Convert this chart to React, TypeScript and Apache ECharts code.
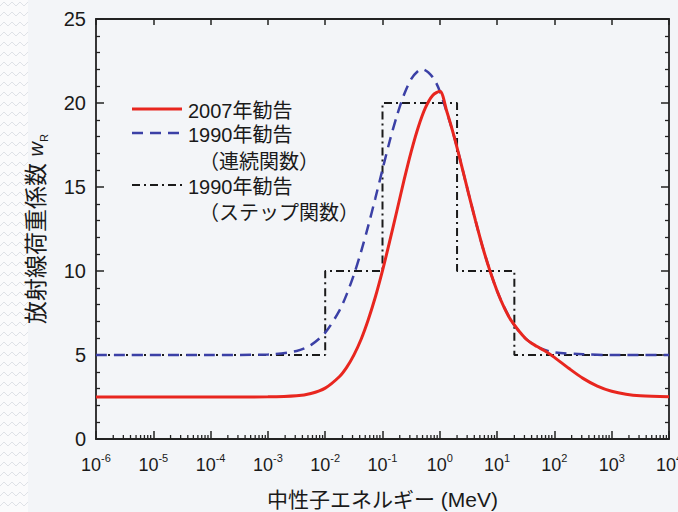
import React, { useEffect, useRef } from "react";
import * as echarts from "echarts";

// Neutron energy (MeV) and radiation weighting factor values
const icrp2007E = [1e-6, 1e-4, 1e-3, 0.00316, 0.00562, 0.01, 0.0178, 0.0237, 0.0316, 0.0422, 0.0562, 0.075, 0.1, 0.133, 0.178, 0.237, 0.316, 0.422, 0.562, 0.75, 1, 1.33, 1.78, 2.37, 3.16, 4.22, 5.62, 7.5, 10, 13.3, 17.8, 31.6, 50, 70.8, 100, 178, 316, 562, 1000, 1780, 3160, 10000];
const icrp2007W = [2.5, 2.5, 2.51, 2.57, 2.71, 3.03, 3.72, 4.26, 4.99, 5.92, 7.08, 8.45, 10.02, 11.75, 13.57, 15.39, 17.09, 18.57, 19.72, 20.45, 20.7, 19.48, 18.0, 16.35, 14.64, 12.97, 11.4, 10.01, 8.81, 7.82, 7.03, 5.97, 5.5, 5.21, 4.86, 4.21, 3.61, 3.15, 2.84, 2.66, 2.57, 2.51];

const icrp1990ContE = [1e-6, 1e-4, 1e-3, 0.00316, 0.00562, 0.01, 0.0178, 0.0237, 0.0316, 0.0422, 0.0562, 0.075, 0.1, 0.133, 0.178, 0.237, 0.316, 0.422, 0.5, 0.75, 1, 1.78, 3.16, 5.62, 10, 17.8, 31.6, 56.2, 100, 316, 1000, 10000];
const icrp1990ContW = [5, 5, 5.03, 5.24, 5.59, 6.33, 7.66, 8.61, 9.77, 11.14, 12.67, 14.33, 16.04, 17.71, 19.23, 20.49, 21.42, 21.92, 22.0, 21.54, 20.69, 18.0, 14.64, 11.4, 8.81, 7.03, 5.97, 5.41, 5.16, 5.05, 5.0, 5.0];

const icrp1990StepE = [1e-6, 0.01, 0.01, 0.1, 0.1, 2, 2, 20, 20, 10000];
const icrp1990StepW = [5, 5, 10, 10, 20, 20, 10, 10, 5, 5];

const xExponents = [-6, -5, -4, -3, -2, -1, 0, 1, 2, 3, 4];
const yTicks = [0, 5, 10, 15, 20, 25];

const legendLabels = ["2007年勧告", "1990年勧告", "（連続関数）", "1990年勧告", "（ステップ関数）"];
const xTitle = "中性子エネルギー (MeV)";
const yTitle = "放射線荷重係数";

const FONT = '"Liberation Sans", Arial, "Noto Sans CJK JP", sans-serif';
const RED = "#e8261f";
const BLUE = "#3b40a6";
const BLACK = "#1a1a1a";
const AXIS = "#222222";

const toPts = (es: number[], ws: number[]) => es.map((e, i) => [Math.log10(e), ws[i]]);

export default function App() {
  const ref = useRef<HTMLDivElement>(null);
  useEffect(() => {
    document.body.style.margin = "0";
    if (!ref.current) return;
    const chart = echarts.init(ref.current, undefined, { renderer: "svg" });

    const minorTicks: number[][] = [];
    for (let n = xExponents[0]; n < xExponents[xExponents.length - 1]; n++) {
      for (let k = 2; k <= 9; k++) minorTicks.push([n + Math.log10(k), 0]);
    }

    const zig: any[] = [];
    for (let r = 0; r < 52; r++) {
      const y = 4 + r * 10;
      const pts: number[][] = [];
      for (let x = 0; x <= 28; x += 4) pts.push([x, (x / 4) % 2 === 0 ? y + 2 : y - 2]);
      zig.push({ type: "polyline", shape: { points: pts }, style: { stroke: "#dfe2e7", lineWidth: 1, fill: null }, silent: true });
    }

    const legendX0 = 132;
    const legendX1 = 182;
    const textX = 188;
    const subX = 199;
    const rows = [111, 135, 162, 187, 213];

    const graphic: any[] = [
      { type: "rect", shape: { x: 0, y: 0, width: 28, height: 512 }, style: { fill: "#fbfbfc" }, silent: true, z: -10 },
      ...zig,
      { type: "line", shape: { x1: legendX0, y1: rows[0] - 2, x2: legendX1, y2: rows[0] - 2 }, style: { stroke: RED, lineWidth: 3 } },
      { type: "line", shape: { x1: legendX0, y1: rows[1] - 2, x2: legendX1, y2: rows[1] - 2 }, style: { stroke: BLUE, lineWidth: 2.5, lineDash: [11, 7] } },
      { type: "line", shape: { x1: legendX0, y1: rows[3] - 2, x2: legendX1, y2: rows[3] - 2 }, style: { stroke: BLACK, lineWidth: 2, lineDash: [8, 4, 2, 4] } },
      ...legendLabels.map((t, i) => ({
        type: "text",
        x: i === 2 || i === 4 ? subX : textX,
        y: rows[i],
        style: { text: t, fontSize: 20, fontFamily: FONT, fill: "#1a1a1a", verticalAlign: "middle" },
      })),
    ];

    const option: any = {
      animation: false,
      backgroundColor: "#f3f5f8",
      textStyle: { fontFamily: FONT },
      grid: { left: 96, right: 9, top: 19, bottom: 73, containLabel: false, outerBoundsMode: "none" },
      xAxis: [
        {
          type: "value",
          min: -6,
          max: 4,
          interval: 1,
          position: "bottom",
          name: xTitle,
          nameLocation: "middle",
          nameGap: 50,
          nameMoveOverlap: false,
          nameTextStyle: { fontSize: 21, color: "#1a1a1a", fontFamily: FONT },
          axisLine: { show: true, onZero: false, lineStyle: { color: AXIS, width: 1.8 } },
          axisTick: { show: true, inside: true, length: 8, lineStyle: { color: AXIS, width: 1.5 } },
          splitLine: { show: false },
          axisLabel: {
            margin: 13,
            hideOverlap: false,
            showMaxLabel: true,
            showMinLabel: true,
            formatter: (v: number) => `{b|10}{s|${v}}`,
            rich: {
              b: { fontSize: 18, color: "#1a1a1a", fontFamily: FONT, lineHeight: 22, verticalAlign: "bottom" },
              s: { fontSize: 11, color: "#1a1a1a", fontFamily: FONT, verticalAlign: "top" },
            },
          },
        },
        {
          type: "value",
          min: -6,
          max: 4,
          interval: 1,
          position: "top",
          axisLine: { show: true, onZero: false, lineStyle: { color: AXIS, width: 1.8 } },
          axisTick: { show: true, inside: true, length: 6, lineStyle: { color: AXIS, width: 1.5 } },
          axisLabel: { show: false },
          splitLine: { show: false },
        },
      ],
      yAxis: [
        {
          type: "value",
          min: yTicks[0],
          max: yTicks[yTicks.length - 1],
          interval: 5,
          position: "left",
          name: `{a|${yTitle} }{w|w}{r|R}`,
          nameLocation: "middle",
          nameGap: 47,
          nameRotate: 90,
          nameMoveOverlap: false,
          nameTextStyle: {
            rich: {
              a: { fontSize: 23, color: "#1a1a1a", fontFamily: FONT, lineHeight: 26, verticalAlign: "middle" },
              w: { fontSize: 20, fontStyle: "italic", color: "#1a1a1a", fontFamily: FONT, lineHeight: 26, verticalAlign: "middle" },
              r: { fontSize: 11, color: "#1a1a1a", fontFamily: FONT, verticalAlign: "bottom" },
            },
          },
          axisLine: { show: true, onZero: false, lineStyle: { color: AXIS, width: 1.8 } },
          axisTick: { show: true, inside: true, length: 8, lineStyle: { color: AXIS, width: 1.5 } },
          minorTick: { show: true, splitNumber: 5, length: 4, lineStyle: { color: AXIS, width: 1.3 } },
          splitLine: { show: false },
          minorSplitLine: { show: false },
          axisLabel: { margin: 10, fontSize: 20, color: "#1a1a1a", fontFamily: FONT },
        },
        {
          type: "value",
          min: yTicks[0],
          max: yTicks[yTicks.length - 1],
          interval: 5,
          position: "right",
          axisLine: { show: true, onZero: false, lineStyle: { color: AXIS, width: 1.8 } },
          axisTick: { show: true, inside: true, length: 8, lineStyle: { color: AXIS, width: 1.5 } },
          minorTick: { show: true, splitNumber: 5, length: 4, lineStyle: { color: AXIS, width: 1.3 } },
          splitLine: { show: false },
          minorSplitLine: { show: false },
          axisLabel: { show: false },
        },
      ],
      series: [
        {
          type: "line",
          name: "1990年勧告（ステップ関数）",
          data: toPts(icrp1990StepE, icrp1990StepW),
          showSymbol: false,
          symbol: "none",
          lineStyle: { color: BLACK, width: 2, type: [8, 4, 2, 4] },
          z: 3,
        },
        {
          type: "line",
          name: "1990年勧告（連続関数）",
          data: toPts(icrp1990ContE, icrp1990ContW),
          showSymbol: false,
          symbol: "none",
          smooth: 0.3,
          lineStyle: { color: BLUE, width: 2.5, type: [11, 7] },
          z: 4,
        },
        {
          type: "line",
          name: "2007年勧告",
          data: toPts(icrp2007E, icrp2007W),
          showSymbol: false,
          symbol: "none",
          smooth: 0.3,
          lineStyle: { color: RED, width: 3 },
          z: 5,
        },
        {
          type: "custom",
          data: minorTicks,
          silent: true,
          clip: false,
          renderItem: (_p: any, api: any) => {
            const pt = api.coord([api.value(0), 0]);
            return {
              type: "line",
              shape: { x1: pt[0], y1: pt[1], x2: pt[0], y2: pt[1] - 4 },
              style: { stroke: AXIS, lineWidth: 1.3 },
            };
          },
          z: 6,
        },
      ],
      graphic,
    };
    chart.setOption(option);
    return () => chart.dispose();
  }, []);
  return <div ref={ref} style={{ width: 678, height: 512 }} />;
}
